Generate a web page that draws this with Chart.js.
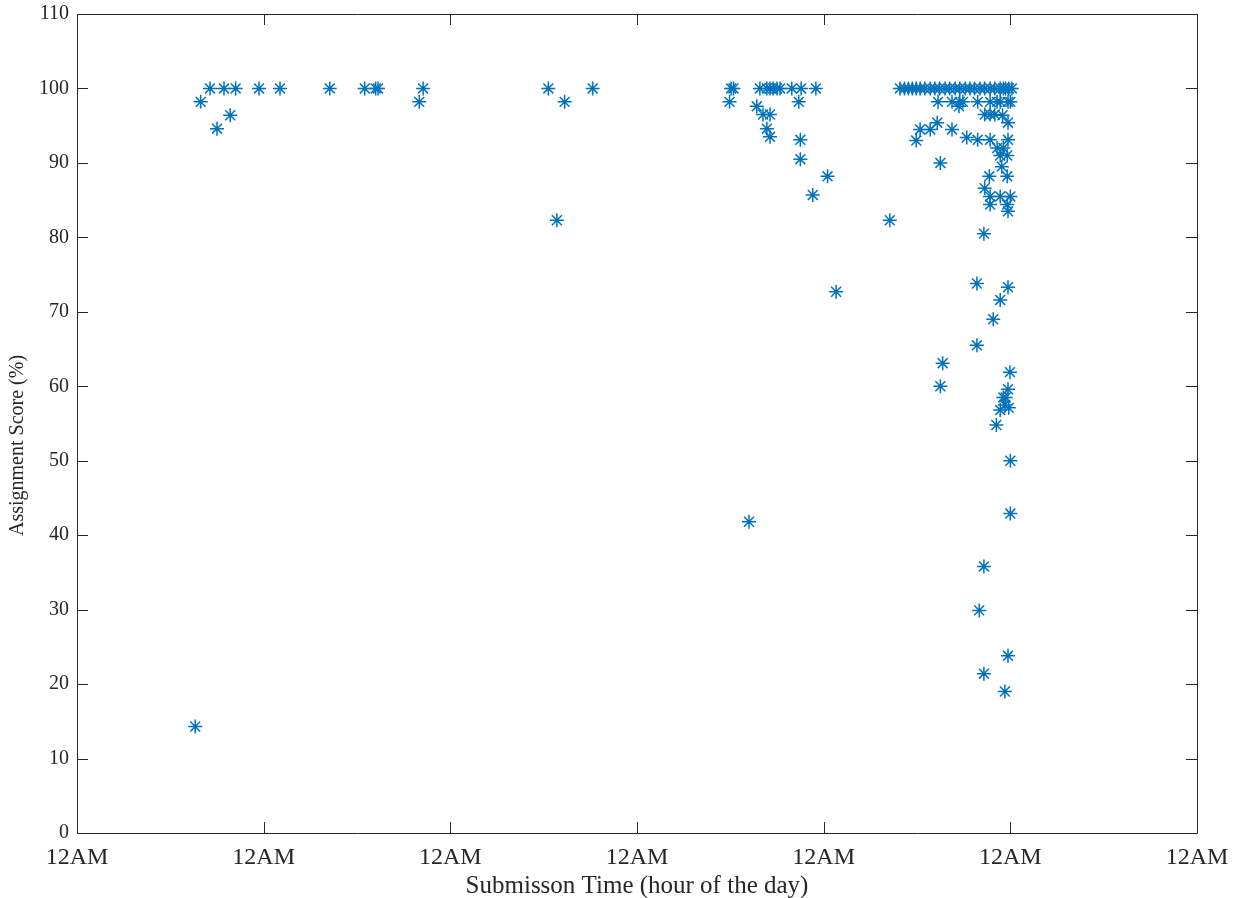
<!DOCTYPE html>
<html>
<head>
<meta charset="utf-8">
<script src="https://cdn.jsdelivr.net/npm/chart.js@4/dist/chart.umd.min.js"></script>
<style>
  html, body { margin: 0; padding: 0; background: #ffffff; }
  #wrap { width: 1237px; height: 898px; position: relative; }
</style>
</head>
<body>
<div id="wrap"><canvas id="c" width="1237" height="898"></canvas></div>
<script>
// Submission time in hours from the first 12AM, and assignment score (%)
const submitHours = [
  15.2, 15.9, 17.1, 18.0, 18.9, 19.7, 20.4, 23.4, 26.1, 32.5, 37.0, 38.4, 38.7, 44.0, 44.5,
  60.6, 61.7, 62.7, 66.3,
  83.9, 84.1, 84.4, 86.4, 87.4, 87.8, 88.2, 88.7, 88.7, 89.1, 89.1, 89.1, 89.5, 90.0, 90.4,
  91.9, 92.8, 93.0, 93.0, 93.1, 94.6, 95.0, 96.5, 97.6, 104.5,
  105.8, 106.4, 106.9, 107.4, 107.9, 108.4, 109.0, 109.7, 110.3, 110.9, 111.6, 112.2, 112.9,
  113.5, 114.2, 114.8, 115.4, 116.1, 116.7, 117.4, 118.0, 118.7, 119.1, 119.4, 119.8, 120.2,
  110.7, 112.5, 113.5, 113.9, 115.8, 117.4, 118.3, 119.7, 118.7, 120.0,
  113.4, 116.7, 117.4, 118.0, 119.0, 119.7, 110.6, 108.4, 109.7, 112.5, 107.9, 114.4,
  115.8, 117.4, 119.7, 111.0, 118.3, 119.1, 118.7, 119.6, 118.9, 117.3, 119.6, 116.7,
  117.4, 118.7, 120.0, 117.4, 119.6, 119.7, 116.6, 115.7, 119.7, 118.7, 117.8, 115.7,
  111.3, 111.0, 119.95, 119.7, 119.1, 119.4, 119.3, 119.8, 118.7, 118.2, 120.0, 120.0,
  116.6, 116.0, 119.7, 116.6, 119.3
];
const scores = [
  14.3, 98.2, 100, 94.6, 100, 96.4, 100, 100, 100, 100, 100, 100, 100, 98.2, 100,
  100, 82.3, 98.2, 100,
  98.2, 100, 100, 41.8, 97.6, 100, 96.5, 100, 94.6, 100, 96.5, 93.5, 100, 100, 100,
  100, 98.2, 93.1, 90.5, 100, 85.7, 100, 88.2, 72.7, 82.3,
  100, 100, 100, 100, 100, 100, 100, 100, 100, 100, 100, 100, 100,
  100, 100, 100, 100, 100, 100, 100, 100, 100, 100, 100, 100, 100,
  98.2, 98.2, 98.2, 98.2, 98.2, 98.2, 98.2, 98.2, 98.2, 98.2,
  97.6, 96.5, 96.5, 96.5, 96.4, 95.4, 95.4, 94.5, 94.5, 94.5, 93.0, 93.4,
  93.1, 93.1, 93.1, 90.0, 92.0, 92.0, 91.0, 91.0, 89.5, 88.2, 88.2, 86.6,
  85.5, 85.5, 85.5, 84.4, 84.4, 83.5, 80.5, 73.8, 73.3, 71.6, 69.0, 65.5,
  63.1, 60.0, 61.9, 59.6, 58.5, 58.5, 57.5, 57.1, 56.8, 54.8, 50.0, 42.9,
  35.8, 29.9, 23.8, 21.4, 19.0
];
const xTickHours = [0, 24, 48, 72, 96, 120, 144];
const xTickLabel = '12AM';
const yTicks = [0, 10, 20, 30, 40, 50, 60, 70, 80, 90, 100, 110];
const yTitle = 'Assignment Score (%)';

const points = submitHours.map((h, i) => ({ x: h, y: scores[i] }));

const FONT = 'Liberation Serif, "Times New Roman", serif';
const AXIS_COLOR = '#262626';

const boxTicks = {
  id: 'boxTicks',
  afterDraw(chart) {
    const { ctx, chartArea: a, scales } = chart;
    const L = 11;
    ctx.save();
    ctx.strokeStyle = AXIS_COLOR;
    ctx.lineWidth = 1;
    ctx.beginPath();
    ctx.rect(Math.round(a.left) + 0.5, Math.round(a.top) + 0.5,
             Math.round(a.right - a.left), Math.round(a.bottom - a.top));
    ctx.stroke();
    ctx.beginPath();
    xTickHours.forEach(v => {
      const px = Math.round(scales.x.getPixelForValue(v)) + 0.5;
      ctx.moveTo(px, a.bottom); ctx.lineTo(px, a.bottom - L);
      ctx.moveTo(px, a.top); ctx.lineTo(px, a.top + L);
    });
    yTicks.forEach(v => {
      const py = Math.round(scales.y.getPixelForValue(v)) + 0.5;
      ctx.moveTo(a.left, py); ctx.lineTo(a.left + L, py);
      ctx.moveTo(a.right, py); ctx.lineTo(a.right - L, py);
    });
    ctx.stroke();
    // y-axis title (placed slightly below the axis centre, as in the reference)
    ctx.fillStyle = AXIS_COLOR;
    ctx.font = '20px ' + FONT;
    ctx.textAlign = 'center';
    ctx.textBaseline = 'middle';
    ctx.translate(18, (a.top + a.bottom) / 2 + 22);
    ctx.rotate(-Math.PI / 2);
    ctx.fillText(yTitle, 0, 0);
    ctx.restore();
  }
};

new Chart(document.getElementById('c'), {
  type: 'scatter',
  data: {
    datasets: [{
      data: points,
      pointStyle: 'star',
      radius: 7,
      borderWidth: 1.5,
      borderColor: '#0072BD',
      backgroundColor: '#0072BD'
    }]
  },
  options: {
    responsive: false,
    animation: false,
    events: [],
    layout: { padding: { left: 0, right: 40, top: 14, bottom: 0 } },
    plugins: { legend: { display: false }, tooltip: { enabled: false } },
    scales: {
      x: {
        type: 'linear',
        min: 0, max: 144,
        afterBuildTicks(scale) { scale.ticks = xTickHours.map(v => ({ value: v })); },
        afterFit(scale) { scale.height = 65; scale.paddingLeft = 0; scale.paddingRight = 0; },
        grid: { display: false, drawTicks: false },
        border: { display: false },
        ticks: {
          callback: () => xTickLabel,
          color: AXIS_COLOR,
          font: { family: FONT, size: 24 },
          padding: 10,
          maxRotation: 0, autoSkip: false
        },
        title: {
          display: true,
          text: 'Submisson Time (hour of the day)',
          color: AXIS_COLOR,
          font: { family: FONT, size: 25 },
          padding: { top: 0, bottom: -3 }
        }
      },
      y: {
        type: 'linear',
        min: 0, max: 110,
        afterBuildTicks(scale) { scale.ticks = yTicks.map(v => ({ value: v })); },
        afterFit(scale) { scale.width = 77; scale.paddingTop = 0; scale.paddingBottom = 0; },
        grid: { display: false, drawTicks: false },
        border: { display: false },
        ticks: {
          color: AXIS_COLOR,
          font: { family: FONT, size: 20 },
          padding: 8
        },
        title: { display: false }
      }
    }
  },
  plugins: [boxTicks]
});
</script>
</body>
</html>
